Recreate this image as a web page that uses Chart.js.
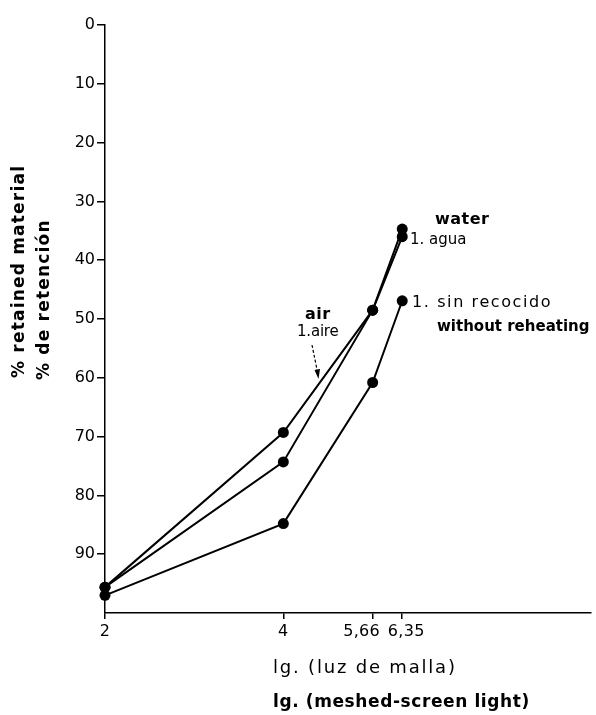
<!DOCTYPE html>
<html>
<head>
<meta charset="utf-8">
<script src="https://cdn.jsdelivr.net/npm/chart.js@4/dist/chart.umd.min.js"></script>
<style>
  html, body { margin: 0; padding: 0; background: #fff; }
  #wrap { width: 596px; height: 715px; position: relative; }
</style>
</head>
<body>
<div id="wrap"><canvas id="retentionChart"></canvas></div>
<script>
const meshSizes = [2, 4, 5.66, 6.35];
const meshTickLabels = ["2", "4", "5,66", "6,35"];
const retentionTicks = [0, 10, 20, 30, 40, 50, 60, 70, 80, 90];
const airRetained = [95.6, 69.3, 48.5, 36.0];
const waterRetained = [95.6, 74.3, 48.5, 34.7];
const noReheatRetained = [97.0, 84.8, 60.8, 46.9];

const FONT = "'DejaVu Sans', sans-serif";
// the two close labels are nudged apart like in the print
const tickNudge = [0, 0, -11, 4];

function toPoints(values) {
  return meshSizes.map((m, i) => ({ x: m, y: values[i] }));
}

function series(label, values) {
  return {
    label: label,
    data: toPoints(values),
    borderColor: "#000",
    borderWidth: 2,
    pointRadius: 5.5,
    pointBackgroundColor: "#000",
    pointBorderWidth: 0,
    tension: 0,
    showLine: true,
    clip: false,
  };
}

function drawText(ctx, text, x, y, font, opts) {
  opts = opts || {};
  ctx.save();
  ctx.font = font;
  ctx.fillStyle = "#000";
  ctx.letterSpacing = (opts.spacing || 0) + "px";
  ctx.textAlign = opts.align || "left";
  ctx.textBaseline = "middle";
  if (opts.rotate) {
    ctx.translate(x, y);
    ctx.rotate(opts.rotate);
    ctx.fillText(text, 0, 0);
  } else {
    ctx.fillText(text, x, y);
  }
  ctx.restore();
}

// titles + curve labels drawn straight on the canvas
const labelsPlugin = {
  id: "labels",
  afterDraw(chart) {
    const ctx = chart.ctx;
    const xScale = chart.scales.x;

    // x tick labels
    meshSizes.forEach((m, i) => {
      drawText(ctx, meshTickLabels[i], xScale.getPixelForValue(m) + tickNudge[i], 632,
        "16px " + FONT, { align: "center", spacing: 0.3 });
    });

    // y axis title (two lines, reading upwards)
    drawText(ctx, "% retained material", 20, 378, "bold 17px " + FONT, { rotate: -Math.PI / 2, spacing: 1.2 });
    drawText(ctx, "% de retención", 45, 380, "bold 17px " + FONT, { rotate: -Math.PI / 2, spacing: 1.2 });

    // x axis title
    drawText(ctx, "lg. (luz de malla)", 273, 668, "18px " + FONT, { spacing: 1.8 });
    drawText(ctx, "lg. (meshed-screen light)", 273, 703, "bold 17px " + FONT, { spacing: 0.6 });

    // curve labels
    drawText(ctx, "water", 435, 220, "bold 16px " + FONT, { spacing: 0.5 });
    drawText(ctx, "1. agua", 410, 240, "15px " + FONT, { spacing: 0 });
    drawText(ctx, "1. sin recocido", 412, 303, "16px " + FONT, { spacing: 1.6 });
    drawText(ctx, "without reheating", 437, 327, "bold 15px " + FONT, { spacing: 0 });
    drawText(ctx, "air", 305, 315, "bold 16px " + FONT, { spacing: 0.5 });
    drawText(ctx, "1.aire", 297, 332, "15px " + FONT, { spacing: -0.2 });

    // dashed pointer from "1.aire" to the air curve
    ctx.save();
    ctx.strokeStyle = "#000";
    ctx.lineWidth = 1.2;
    ctx.setLineDash([3, 2]);
    ctx.beginPath();
    ctx.moveTo(312, 345);
    ctx.lineTo(317.5, 372);
    ctx.stroke();
    ctx.setLineDash([]);
    ctx.beginPath();
    ctx.moveTo(318.5, 379);
    ctx.lineTo(314.5, 370);
    ctx.lineTo(320, 369);
    ctx.closePath();
    ctx.fillStyle = "#000";
    ctx.fill();
    ctx.restore();
  },
};

const ctx = document.getElementById("retentionChart");
new Chart(ctx, {
  type: "scatter",
  data: {
    datasets: [
      series("air", airRetained),
      series("water", waterRetained),
      series("without reheating", noReheatRetained),
    ],
  },
  options: {
    responsive: true,
    maintainAspectRatio: false,
    animation: false,
    layout: { padding: { top: 25, right: 3, left: 0, bottom: 0 } },
    plugins: {
      legend: { display: false },
      tooltip: { enabled: false },
    },
    scales: {
      x: {
        type: "logarithmic",
        min: 2,
        max: 13.2,
        afterBuildTicks: (scale) => {
          scale.ticks = meshSizes.map((v) => ({ value: v }));
        },
        afterFit: (scale) => {
          scale.height = 102;
        },
        ticks: {
          display: false,
          callback: (value, index) => meshTickLabels[index],
          autoSkip: false,
          maxRotation: 0,
        },
        grid: {
          drawOnChartArea: false,
          drawTicks: true,
          tickLength: 6,
          color: "#000",
          lineWidth: 1.5,
        },
        border: { display: true, color: "#000", width: 1.5 },
      },
      y: {
        min: 0,
        max: 100,
        reverse: true,
        afterBuildTicks: (scale) => {
          scale.ticks = retentionTicks.map((v) => ({ value: v }));
        },
        afterFit: (scale) => {
          scale.width = 105;
        },
        ticks: {
          callback: (value) => value,
          color: "#000",
          padding: 2,
          font: { family: FONT, size: 16 },
        },
        grid: {
          drawOnChartArea: false,
          drawTicks: true,
          tickLength: 8,
          color: "#000",
          lineWidth: 1.5,
        },
        border: { display: true, color: "#000", width: 1.5 },
      },
    },
  },
  plugins: [labelsPlugin],
});
</script>
</body>
</html>
